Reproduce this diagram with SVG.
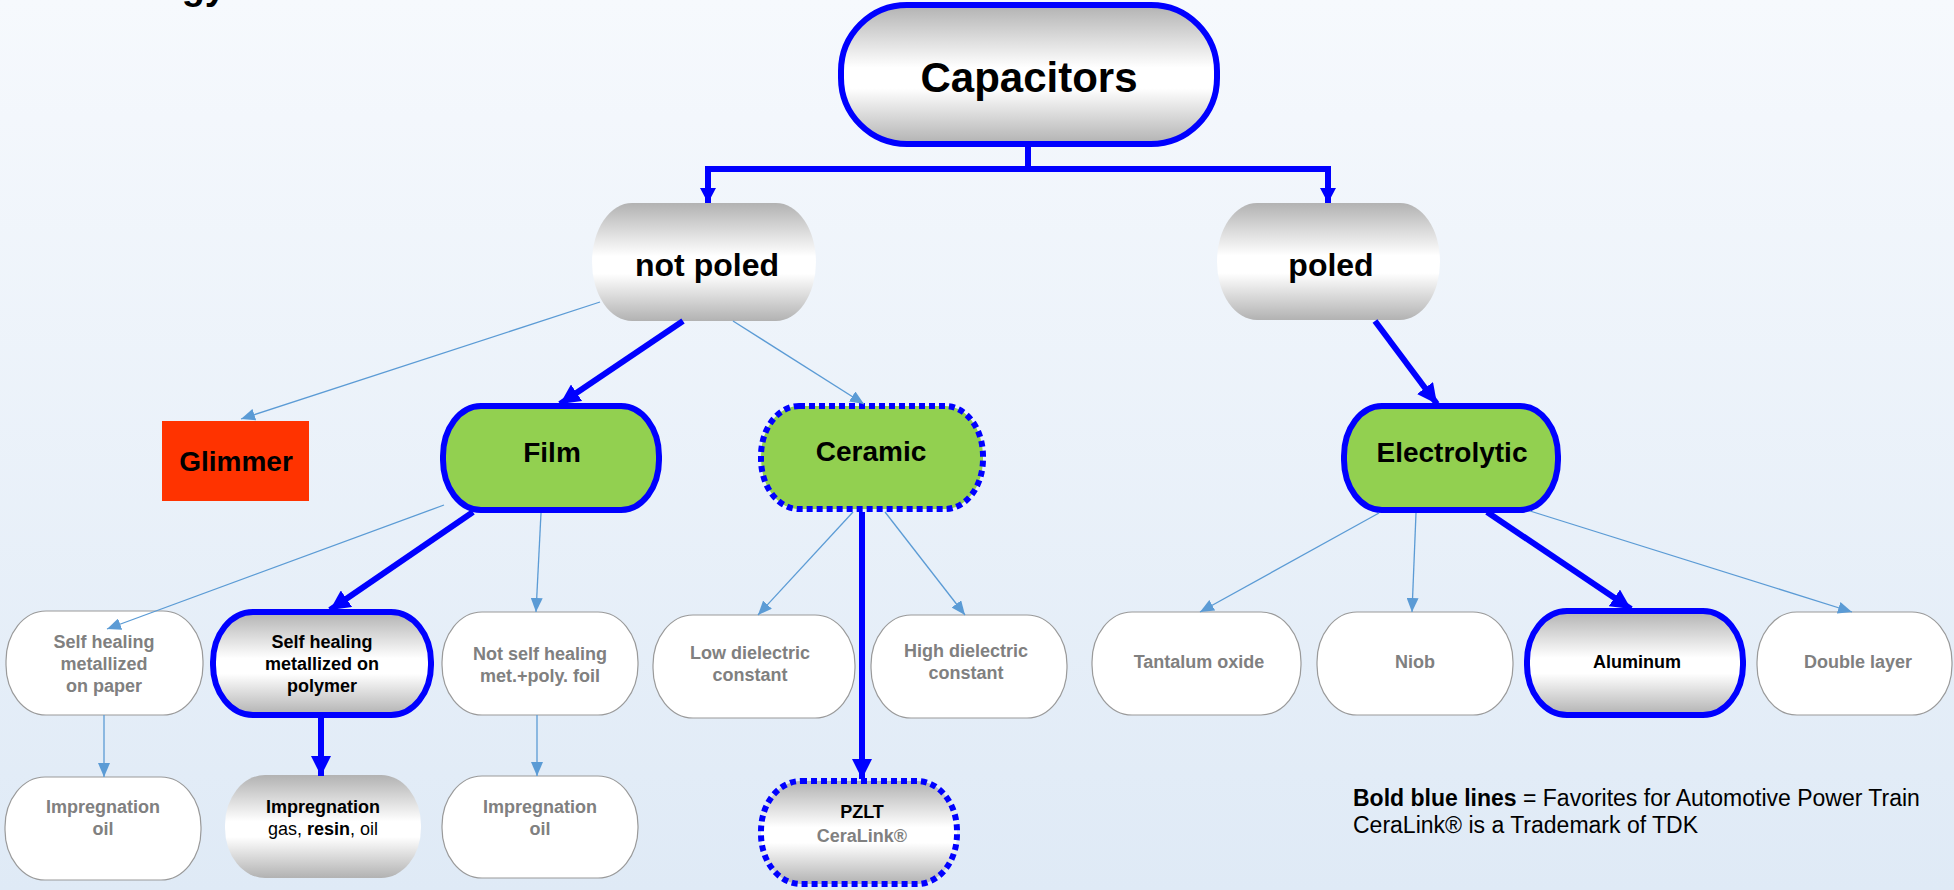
<svg xmlns="http://www.w3.org/2000/svg" width="1954" height="890" viewBox="0 0 1954 890">
<defs>
<linearGradient id="bg" x1="0" y1="0" x2="0" y2="1">
<stop offset="0" stop-color="#f6f9fd"/>
<stop offset="1" stop-color="#dfeaf6"/>
</linearGradient>
<linearGradient id="metal" x1="0" y1="0" x2="0" y2="1">
<stop offset="0" stop-color="#b2b2b2"/>
<stop offset="0.45" stop-color="#ffffff"/>
<stop offset="0.6" stop-color="#ffffff"/>
<stop offset="1" stop-color="#b2b2b2"/>
</linearGradient>
<marker id="thin" markerUnits="userSpaceOnUse" markerWidth="14" markerHeight="12" viewBox="0 0 14 12" refX="14" refY="6" orient="auto">
<path d="M0,0 L14,6 L0,12 z" fill="#5b9bd5"/>
</marker>
<marker id="thick" markerUnits="userSpaceOnUse" markerWidth="20" markerHeight="20" viewBox="0 0 20 20" refX="20" refY="10" orient="auto">
<path d="M0,0 L20,10 L0,20 z" fill="#0000ff"/>
</marker>
<marker id="thickS" markerUnits="userSpaceOnUse" markerWidth="15" markerHeight="16" viewBox="0 0 15 16" refX="15" refY="8" orient="auto">
<path d="M0,0 L15,8 L0,16 z" fill="#0000ff"/>
</marker>
<style>
text{font-family:"Liberation Sans",Arial,sans-serif;font-weight:bold;text-anchor:middle;}
.big{font-size:42px;fill:#000;}
.mid{font-size:32px;fill:#000;}
.grn{font-size:28px;fill:#000;}
.sm{font-size:18px;fill:#808080;}
.smk{font-size:18px;fill:#000;}
.plain{fill:#ffffff;stroke:#9a9a9a;stroke-width:1.2;}
.metal{fill:url(#metal);}
.bold{stroke:#0000ff;stroke-width:6;}
.dot{stroke:#0000ff;stroke-width:6;stroke-dasharray:6 4;}
.green{fill:#92d050;}
.tl{stroke:#5b9bd5;stroke-width:1.3;fill:none;marker-end:url(#thin);}
.tk{stroke:#0000ff;stroke-width:6;fill:none;marker-end:url(#thick);}
.leg{font-size:23px;fill:#000;text-anchor:start;font-weight:normal;}
</style>
</defs>
<rect x="0" y="0" width="1954" height="890" fill="url(#bg)"/>
<text x="226" y="-1" style="font-size:38px;text-anchor:end;fill:#000">gy</text>

<g id="capacitors">
<rect x="841" y="5" width="376" height="139" rx="66" ry="66" class="metal bold"/>
<text class="big" x="1029" y="92">Capacitors</text>
</g>
<g id="not-poled">
<rect x="592" y="203" width="224" height="118" rx="40" ry="59" class="metal"/>
<text class="mid" x="707" y="276">not poled</text>
</g>
<g id="poled">
<rect x="1217" y="203" width="223" height="117" rx="40" ry="58" class="metal"/>
<text class="mid" x="1331" y="276">poled</text>
</g>
<g id="glimmer">
<rect x="162" y="421" width="147" height="80" fill="#ff3300"/>
<text class="grn" x="236" y="471">Glimmer</text>
</g>
<g id="film">
<rect x="443" y="406" width="216" height="104" rx="38" ry="50" class="green bold"/>
<text class="grn" x="552" y="462">Film</text>
</g>
<g id="ceramic">
<rect x="761" y="406" width="222" height="103" rx="38" ry="50" class="green dot"/>
<text class="grn" x="871" y="461">Ceramic</text>
</g>
<g id="electrolytic">
<rect x="1344" y="406" width="214" height="104" rx="38" ry="50" class="green bold"/>
<text class="grn" x="1452" y="462">Electrolytic</text>
</g>

<g id="self-healing-paper">
<rect x="6" y="611" width="197" height="104" rx="40" ry="50" class="plain"/>
<text class="sm" x="104" y="648">Self healing</text>
<text class="sm" x="104" y="670">metallized</text>
<text class="sm" x="104" y="692">on paper</text>
</g>
<g id="self-healing-polymer">
<rect x="213" y="612" width="218" height="103" rx="40" ry="50" class="metal bold"/>
<text class="smk" x="322" y="648">Self healing</text>
<text class="smk" x="322" y="670">metallized on</text>
<text class="smk" x="322" y="692">polymer</text>
</g>
<g id="not-self-healing">
<rect x="442" y="612" width="196" height="103" rx="40" ry="50" class="plain"/>
<text class="sm" x="540" y="660">Not self healing</text>
<text class="sm" x="540" y="682">met.+poly. foil</text>
</g>
<g id="low-dielectric">
<rect x="653" y="615" width="202" height="103" rx="40" ry="50" class="plain"/>
<text class="sm" x="750" y="659">Low dielectric</text>
<text class="sm" x="750" y="681">constant</text>
</g>
<g id="high-dielectric">
<rect x="871" y="615" width="196" height="103" rx="40" ry="50" class="plain"/>
<text class="sm" x="966" y="657">High dielectric</text>
<text class="sm" x="966" y="679">constant</text>
</g>
<g id="tantalum">
<rect x="1092" y="612" width="209" height="103" rx="40" ry="50" class="plain"/>
<text class="sm" x="1199" y="668">Tantalum oxide</text>
</g>
<g id="niob">
<rect x="1317" y="612" width="196" height="103" rx="40" ry="50" class="plain"/>
<text class="sm" x="1415" y="668">Niob</text>
</g>
<g id="aluminum">
<rect x="1527" y="611" width="216" height="104" rx="40" ry="50" class="metal bold"/>
<text class="smk" x="1637" y="668">Aluminum</text>
</g>
<g id="double-layer">
<rect x="1757" y="612" width="195" height="103" rx="40" ry="50" class="plain"/>
<text class="sm" x="1858" y="668">Double layer</text>
</g>

<g id="impregnation-oil-1">
<rect x="5" y="777" width="196" height="103" rx="40" ry="50" class="plain"/>
<text class="sm" x="103" y="813">Impregnation</text>
<text class="sm" x="103" y="835">oil</text>
</g>
<g id="impregnation-resin">
<rect x="225" y="775" width="196" height="103" rx="40" ry="50" class="metal"/>
<text class="smk" x="323" y="813">Impregnation</text>
<text class="smk" x="323" y="835" style="font-weight:normal">gas, <tspan style="font-weight:bold">resin</tspan>, oil</text>
</g>
<g id="impregnation-oil-2">
<rect x="442" y="776" width="196" height="102" rx="40" ry="50" class="plain"/>
<text class="sm" x="540" y="813">Impregnation</text>
<text class="sm" x="540" y="835">oil</text>
</g>
<g id="pzlt">
<rect x="761" y="781" width="196" height="103" rx="40" ry="50" class="metal dot"/>
<text class="smk" x="862" y="818">PZLT</text>
<text class="sm" x="862" y="842">CeraLink®</text>
</g>

<g id="connectors">
<path d="M1028,147 V169 M705,169 H1331" stroke="#0000ff" stroke-width="6" fill="none"/>
<path d="M708,166 V203" stroke="#0000ff" stroke-width="6" fill="none" marker-end="url(#thickS)"/>
<path d="M1328,166 V203" stroke="#0000ff" stroke-width="6" fill="none" marker-end="url(#thickS)"/>
<path class="tk" d="M683,321 L560,404"/>
<path class="tk" d="M1375,321 L1437,404"/>
<path class="tk" d="M473,512 L330,610"/>
<path class="tk" d="M862,512 V779"/>
<path class="tk" d="M321,718 V776"/>
<path class="tk" d="M1487,512 L1631,609"/>
<path class="tl" d="M600,302 L241,419"/>
<path class="tl" d="M733,321 L864,404"/>
<path class="tl" d="M444,505 L107,629"/>
<path class="tl" d="M541,513 L536,612"/>
<path class="tl" d="M853,512 L758,615"/>
<path class="tl" d="M885,512 L965,615"/>
<path class="tl" d="M104,715 V777"/>
<path class="tl" d="M537,715 V776"/>
<path class="tl" d="M1379,513 L1200,612"/>
<path class="tl" d="M1416,513 L1412,612"/>
<path class="tl" d="M1530,511 L1852,612"/>
</g>

<g id="legend">
<text class="leg" x="1353" y="806"><tspan style="font-weight:bold">Bold blue lines</tspan> = Favorites for Automotive Power Train</text>
<text class="leg" x="1353" y="833">CeraLink® is a Trademark of TDK</text>
</g>
</svg>
